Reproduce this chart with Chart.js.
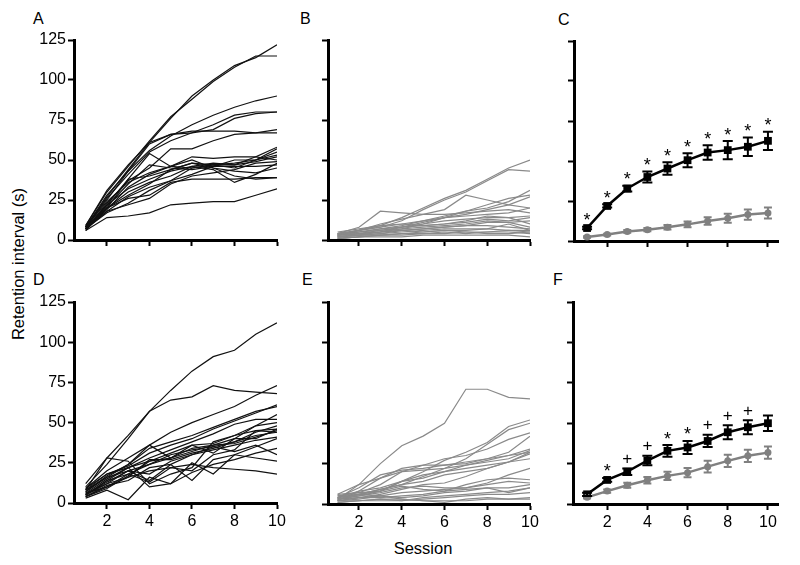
<!DOCTYPE html>
<html>
<head>
<meta charset="utf-8">
<script src="https://cdn.jsdelivr.net/npm/chart.js@4.4.0/dist/chart.umd.min.js"></script>
<style>
body { margin:0; width:800px; height:565px; background:#fff; position:relative; overflow:hidden; font-family:"Liberation Sans", Arial, sans-serif; }
canvas.panel { position:absolute; }
.lbl { position:absolute; font-size:16px; color:#000; line-height:1; }
.ytitle { position:absolute; left:18px; top:264px; transform:translate(-50%,-50%) rotate(-90deg); white-space:nowrap; font-size:16.5px; }
.xtitle { position:absolute; left:423px; top:548px; transform:translate(-50%,-50%); font-size:16.5px; }
</style>
</head>
<body>
<div class="lbl" style="left:33px;top:11px">A</div>
<div class="lbl" style="left:300px;top:11px">B</div>
<div class="lbl" style="left:558px;top:12px">C</div>
<div class="lbl" style="left:33px;top:272px">D</div>
<div class="lbl" style="left:302px;top:272px">E</div>
<div class="lbl" style="left:553px;top:272px">F</div>
<div class="ytitle">Retention interval (s)</div>
<div class="xtitle">Session</div>
<canvas class="panel" id="panelA"></canvas>
<canvas class="panel" id="panelB"></canvas>
<canvas class="panel" id="panelC"></canvas>
<canvas class="panel" id="panelD"></canvas>
<canvas class="panel" id="panelE"></canvas>
<canvas class="panel" id="panelF"></canvas>
<script>
// Data
const sessions = [1, 2, 3, 4, 5, 6, 7, 8, 9, 10];
const xTicks = [2, 4, 6, 8, 10];
const yTicks = [0, 25, 50, 75, 100, 125];

// A: individual animals (black)
const aLines = [
    [9, 31, 47, 61, 76, 90, 100, 109, 114, 122],
    [9, 30, 46, 62, 77, 88, 99, 108, 115, 115],
    [8, 28, 43, 56, 65, 72, 78, 83, 87, 90],
    [8, 26, 41, 55, 62, 67, 72, 78, 80, 80],
    [8, 27, 44, 61, 66, 67, 69, 76, 79, 80],
    [8, 25, 43, 60, 66, 68, 68, 68, 67, 67],
    [7, 23, 37, 45, 57, 57, 62, 66, 67, 69],
    [8, 24, 36, 42, 46, 52, 51, 52, 52, 58],
    [7, 22, 38, 54, 46, 45, 47, 48, 50, 57],
    [8, 21, 35, 47, 45, 44, 46, 50, 50, 55],
    [7, 20, 38, 40, 44, 48, 45, 40, 38, 39],
    [7, 19, 33, 41, 46, 50, 45, 43, 42, 45],
    [6, 20, 30, 36, 40, 46, 48, 47, 49, 52],
    [7, 22, 32, 38, 43, 46, 44, 36, 41, 48],
    [7, 18, 27, 33, 37, 45, 47, 47, 52, 50],
    [6, 20, 26, 28, 36, 38, 38, 38, 39, 39],
    [7, 18, 22, 26, 35, 40, 42, 44, 48, 49],
    [7, 17, 23, 31, 37, 41, 46, 46, 46, 47],
    [6, 14, 15, 17, 22, 23, 24, 24, 28, 32],
    [8, 20, 28, 35, 44, 48, 47, 45, 50, 53]
];

// B: individual animals (grey)
const bLines = [
    [5, 7, 9, 14, 20, 26, 31, 38, 45, 50],
    [4, 6, 8, 12, 19, 25, 30, 37, 44, 43],
    [3, 6, 10, 13, 16, 19, 28, 25, 22, 20],
    [4, 8, 18, 17, 16, 16, 17, 18, 19, 17],
    [3, 5, 7, 9, 12, 15, 18, 20, 24, 31],
    [3, 4, 6, 8, 11, 14, 18, 22, 26, 28],
    [2, 4, 5, 7, 10, 14, 16, 19, 22, 27],
    [4, 6, 9, 10, 12, 14, 15, 16, 17, 20],
    [3, 5, 7, 8, 9, 10, 11, 13, 12, 14],
    [2, 3, 5, 6, 7, 8, 9, 11, 11, 8],
    [2, 3, 4, 5, 6, 7, 7, 7, 6, 5],
    [3, 4, 5, 6, 5, 6, 6, 7, 10, 6],
    [1, 2, 3, 3, 4, 4, 5, 5, 6, 6],
    [2, 3, 3, 4, 4, 5, 4, 5, 5, 4],
    [1, 2, 2, 2, 3, 3, 3, 3, 3, 2],
    [4, 5, 6, 7, 8, 9, 10, 12, 11, 12],
    [3, 6, 8, 10, 9, 10, 12, 15, 14, 10],
    [2, 3, 4, 6, 7, 8, 9, 9, 8, 7],
    [1, 2, 3, 4, 5, 6, 5, 4, 4, 5],
    [3, 4, 5, 8, 10, 12, 13, 14, 14, 15]
];

// C: group means +/- SEM
const cBlackMean = [8.1, 21.9, 32.8, 40, 45.3, 50.5, 55.3, 56.8, 58.9, 62.6];
const cBlackErr = [0.8, 1, 1.8, 3.5, 3.9, 4.4, 4.5, 5.7, 5.8, 5.7];
const cGreyMean = [2.5, 4, 6, 7.1, 8.6, 10.4, 12.5, 14.2, 16.5, 17.5];
const cGreyErr = [0.5, 0.6, 0.8, 1, 1.4, 1.8, 2.3, 2.8, 3.2, 3.4];
const cSig = ['*', '*', '*', '*', '*', '*', '*', '*', '*', '*'];

// D: individual animals (black)
const dLines = [
    [12, 28, 42, 57, 70, 82, 91, 95, 105, 112],
    [10, 24, 40, 57, 64, 66, 73, 70, 69, 68],
    [9, 20, 28, 36, 44, 50, 55, 60, 67, 73],
    [8, 18, 23, 31, 36, 40, 46, 51, 56, 61],
    [7, 17, 24, 34, 38, 42, 47, 52, 57, 60],
    [6, 15, 22, 28, 33, 38, 43, 49, 52, 52],
    [8, 28, 26, 12, 18, 22, 38, 42, 48, 55],
    [5, 12, 20, 24, 28, 34, 36, 40, 48, 50],
    [4, 9, 17, 26, 31, 36, 37, 42, 45, 46],
    [6, 10, 16, 27, 27, 31, 34, 38, 44, 48],
    [5, 14, 18, 13, 22, 20, 30, 33, 45, 44],
    [3, 8, 2, 16, 12, 25, 18, 30, 35, 40],
    [5, 14, 22, 10, 12, 19, 24, 27, 31, 34],
    [4, 10, 18, 24, 30, 33, 35, 32, 36, 30],
    [7, 16, 20, 14, 24, 14, 27, 30, 28, 26],
    [6, 12, 16, 20, 22, 24, 22, 21, 20, 18],
    [9, 18, 22, 26, 28, 32, 36, 37, 41, 45],
    [4, 11, 14, 22, 24, 30, 35, 38, 42, 44],
    [8, 16, 24, 36, 28, 36, 31, 40, 40, 46],
    [5, 13, 20, 18, 26, 30, 33, 36, 39, 41]
];

// E: individual animals (grey)
const eLines = [
    [6, 12, 25, 36, 42, 50, 71, 71, 66, 65],
    [4, 8, 10, 14, 20, 27, 32, 38, 48, 52],
    [3, 6, 9, 12, 17, 22, 28, 37, 46, 50],
    [5, 7, 12, 20, 24, 28, 30, 34, 40, 44],
    [3, 12, 16, 22, 24, 24, 26, 28, 32, 42],
    [4, 10, 18, 21, 22, 24, 25, 28, 30, 34],
    [2, 8, 16, 20, 21, 22, 24, 26, 28, 33],
    [3, 5, 8, 14, 16, 20, 24, 27, 30, 32],
    [4, 6, 9, 12, 14, 18, 20, 22, 26, 31],
    [2, 4, 6, 9, 12, 13, 17, 22, 26, 28],
    [3, 5, 7, 10, 11, 10, 10, 13, 18, 22],
    [2, 4, 4, 5, 6, 8, 12, 15, 16, 15],
    [4, 6, 8, 11, 9, 8, 9, 10, 10, 12],
    [2, 3, 5, 4, 5, 7, 8, 10, 7, 10],
    [1, 2, 2, 2, 3, 4, 5, 6, 6, 7],
    [5, 6, 5, 3, 2, 1, 3, 4, 3, 4],
    [2, 2, 3, 3, 2, 2, 2, 3, 3, 3],
    [6, 7, 8, 14, 18, 20, 22, 24, 26, 32],
    [3, 4, 5, 7, 8, 9, 10, 12, 14, 13],
    [1, 2, 3, 2, 4, 5, 6, 7, 8, 10]
];

// F: group means +/- SEM
const fBlackMean = [6, 14.9, 20, 26.9, 32.9, 35, 39, 44.4, 47.5, 50];
const fBlackErr = [1, 1.2, 2, 2.9, 3.6, 4, 3.8, 4.3, 4.3, 4.8];
const fGreyMean = [4.1, 8, 11.6, 14.7, 17.4, 19.4, 23.1, 26.7, 29.8, 31.8];
const fGreyErr = [0.7, 1, 1.6, 2, 2.5, 2.8, 3.6, 3.8, 3.8, 3.8];
const fSig = ['', '*', '+', '+', '*', '*', '+', '+', '+', ''];

const FONT = '"Liberation Sans", Arial, sans-serif';
const BLACK = '#000';
const GREY = '#808080';

// error bars + significance symbols
const errorBars = {
    id: 'errorBars',
    afterDatasetsDraw(chart) {
        const { ctx, scales: { x, y } } = chart;
        chart.data.datasets.forEach(ds => {
            if (!ds.errors) return;
            ctx.save();
            ctx.strokeStyle = ds.borderColor;
            ctx.lineWidth = 2;
            ds.data.forEach((p, j) => {
                const e = ds.errors[j];
                const px = x.getPixelForValue(p.x);
                const top = y.getPixelForValue(p.y + e);
                const bot = y.getPixelForValue(p.y - e);
                const cap = ds.capWidth;
                ctx.beginPath();
                ctx.moveTo(px, top); ctx.lineTo(px, bot);
                ctx.moveTo(px - cap, top); ctx.lineTo(px + cap, top);
                ctx.moveTo(px - cap, bot); ctx.lineTo(px + cap, bot);
                ctx.stroke();
                if (ds.sig && ds.sig[j]) {
                    ctx.fillStyle = BLACK;
                    ctx.font = (ds.sig[j] === '*' ? '18px ' : '17px ') + FONT;
                    ctx.textAlign = 'center';
                    ctx.textBaseline = 'alphabetic';
                    const m = ctx.measureText(ds.sig[j]);
                    const center = top - 10;
                    const base = center + (m.actualBoundingBoxAscent - m.actualBoundingBoxDescent) / 2;
                    ctx.fillText(ds.sig[j], px, base);
                }
            });
            ctx.restore();
        });
    }
};

function toPoints(vals) {
    return vals.map((v, i) => ({ x: sessions[i], y: v }));
}

function spaghetti(lines, color) {
    return lines.map(vals => ({
        data: toPoints(vals),
        borderColor: color,
        borderWidth: 1.2,
        pointRadius: 0,
        tension: 0,
        fill: false
    }));
}

function meanSet(vals, errs, color, style, radius, sig) {
    return {
        data: toPoints(vals),
        errors: errs,
        sig: sig,
        capWidth: color === BLACK ? 5 : 4,
        borderColor: color,
        backgroundColor: color,
        borderWidth: 2.5,
        pointStyle: style,
        pointRadius: radius,
        pointBorderWidth: 0,
        tension: 0,
        fill: false
    };
}

function makePanel(id, box, datasets, showX, showY) {
    const canvas = document.getElementById(id);
    canvas.width = box.r - box.l + 90;
    canvas.height = box.b - box.t + 65;
    canvas.style.left = (box.l - 70) + 'px';
    canvas.style.top = (box.t - 20) + 'px';

    const axisGrid = {
        display: true,
        drawOnChartArea: false,
        drawTicks: true,
        tickLength: 6,
        tickWidth: 2,
        color: BLACK
    };

    new Chart(canvas.getContext('2d'), {
        type: 'line',
        data: { datasets: datasets },
        options: {
            responsive: false,
            animation: false,
            layout: { padding: { top: 20, right: 20, left: 0, bottom: 0 } },
            plugins: { legend: { display: false }, tooltip: { enabled: false } },
            scales: {
                x: {
                    type: 'linear',
                    min: box.xmin,
                    max: box.xmax,
                    afterBuildTicks: s => { s.ticks = xTicks.map(v => ({ value: v })); },
                    afterFit: s => { s.height = 45; },
                    border: { display: true, color: BLACK, width: 3 },
                    grid: axisGrid,
                    ticks: { display: showX, color: BLACK, font: { size: 16, family: FONT }, padding: 3, maxRotation: 0, autoSkip: false }
                },
                y: {
                    min: 0,
                    max: 125,
                    afterBuildTicks: s => { s.ticks = yTicks.map(v => ({ value: v })); },
                    afterFit: s => { s.width = 70; },
                    border: { display: true, color: BLACK, width: 3 },
                    grid: axisGrid,
                    ticks: { display: showY, color: BLACK, font: { size: 16, family: FONT }, padding: 2 }
                }
            }
        },
        plugins: [errorBars]
    });
}

makePanel('panelA', { l: 74, r: 277, t: 40, b: 240, xmin: 0.45, xmax: 10 }, spaghetti(aLines, '#111'), false, true);
makePanel('panelB', { l: 328, r: 530, t: 40, b: 240, xmin: 0.55, xmax: 10 }, spaghetti(bLines, '#8a8a8a'), false, false);
makePanel('panelC', { l: 574, r: 778, t: 41, b: 241, xmin: 0.35, xmax: 10.5 }, [
    meanSet(cGreyMean, cGreyErr, GREY, 'circle', 3.5, null),
    meanSet(cBlackMean, cBlackErr, BLACK, 'rect', 5.5, cSig)
], false, false);
makePanel('panelD', { l: 74, r: 277, t: 302, b: 503, xmin: 0.45, xmax: 10 }, spaghetti(dLines, '#111'), true, true);
makePanel('panelE', { l: 328, r: 530, t: 302, b: 504, xmin: 0.55, xmax: 10 }, spaghetti(eLines, '#8a8a8a'), true, false);
makePanel('panelF', { l: 573, r: 778, t: 302, b: 504, xmin: 0.3, xmax: 10.5 }, [
    meanSet(fGreyMean, fGreyErr, GREY, 'circle', 3.5, null),
    meanSet(fBlackMean, fBlackErr, BLACK, 'rect', 5.5, fSig)
], true, false);
</script>
</body>
</html>
